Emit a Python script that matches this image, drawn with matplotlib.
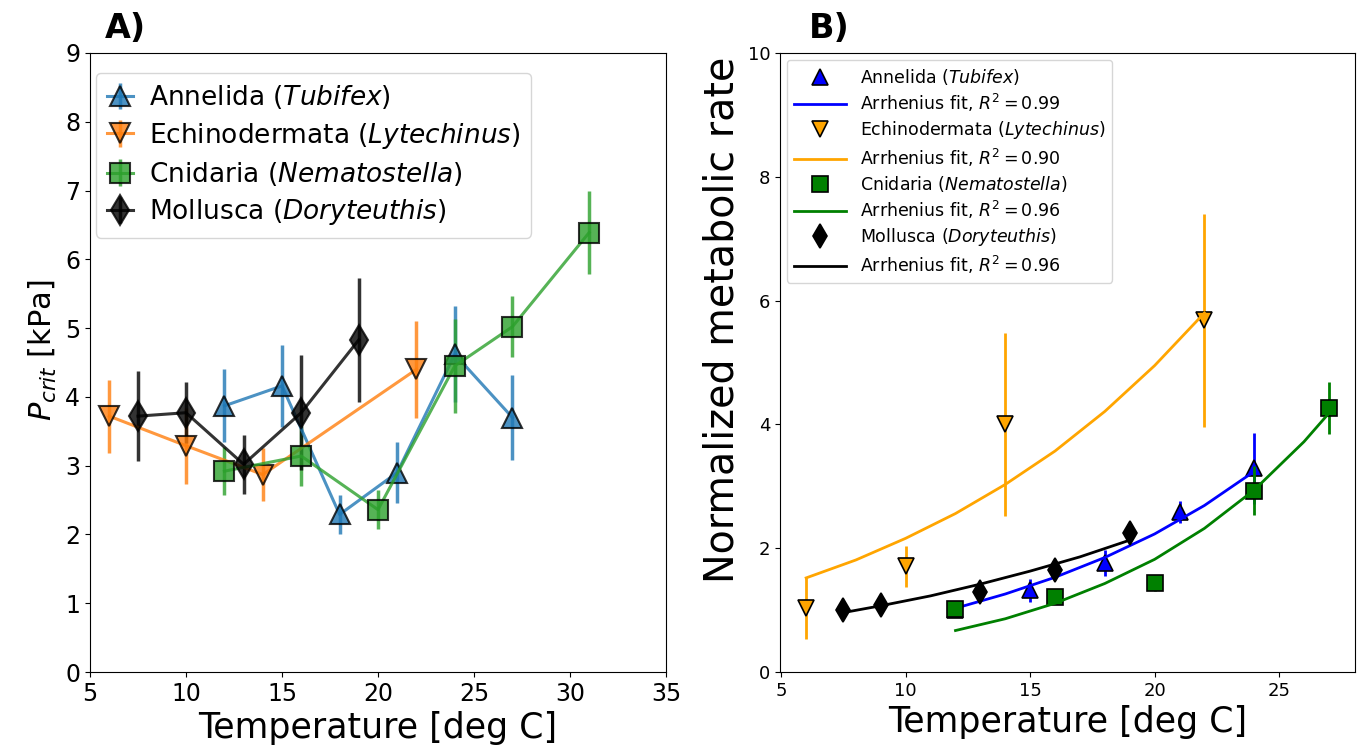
import numpy as np
import matplotlib
matplotlib.use("Agg")
import matplotlib.pyplot as plt

# panel A: Pcrit vs temperature
ann_t = [12, 15, 18, 21, 24, 27]
ann_p = [3.87, 4.16, 2.29, 2.90, 4.62, 3.70]
ann_pe = [0.53, 0.60, 0.29, 0.45, 0.70, 0.62]

ech_t = [6, 10, 14, 22]
ech_p = [3.72, 3.29, 2.87, 4.40]
ech_pe = [0.53, 0.55, 0.38, 0.70]

cni_t = [12, 16, 20, 24, 27, 31]
cni_p = [2.92, 3.14, 2.36, 4.45, 5.02, 6.39]
cni_pe = [0.35, 0.43, 0.28, 0.68, 0.44, 0.60]

mol_t = [7.5, 10, 13, 16, 19]
mol_p = [3.72, 3.77, 3.02, 3.77, 4.83]
mol_pe = [0.65, 0.44, 0.43, 0.84, 0.90]

# panel B: normalized metabolic rate
ann_tb = [12, 15, 18, 21, 24]
ann_r = [1.00, 1.32, 1.76, 2.59, 3.29]
ann_re = [0.08, 0.19, 0.21, 0.18, 0.57]
ech_r = [1.03, 1.71, 4.00, 5.68]
ech_re = [0.50, 0.33, 1.48, 1.72]
cni_tb = [12, 16, 20, 24, 27]
cni_r = [1.02, 1.21, 1.43, 2.93, 4.27]
cni_re = [0.05, 0.05, 0.12, 0.40, 0.42]
mol_tb = [7.5, 9, 13, 16, 19]
mol_r = [1.00, 1.08, 1.30, 1.65, 2.24]
mol_re = [0.05, 0.05, 0.06, 0.08, 0.08]

# fit curves
ann_fit_t = [12, 14, 16, 18, 20, 22, 24]
ann_fit = [1.03, 1.26, 1.53, 1.85, 2.23, 2.69, 3.24]
ech_fit_t = [6, 8, 10, 12, 14, 16, 18, 20, 22]
ech_fit = [1.52, 1.81, 2.16, 2.56, 3.03, 3.57, 4.21, 4.95, 5.80]
cni_fit_t = [12, 14, 16, 18, 20, 22, 24, 26, 27]
cni_fit = [0.67, 0.86, 1.11, 1.43, 1.82, 2.32, 2.94, 3.72, 4.18]
mol_fit_t = [7.5, 9, 11, 13, 15, 17, 19]
mol_fit = [0.96, 1.07, 1.23, 1.42, 1.63, 1.86, 2.13]

fig = plt.figure(figsize=(13.59, 7.53), dpi=100)
ax1 = fig.add_axes([90/1359, 81/753, 576/1359, 619/753])
ax2 = fig.add_axes([780/1359, 81/753, 575/1359, 619/753])

# ---- A ----
kw = dict(markersize=15, lw=2.2, elinewidth=2.5, alpha=0.8, markeredgecolor='k', markeredgewidth=1.5)
ax1.errorbar(ann_t, ann_p, yerr=ann_pe, fmt='-^', color='C0', label='Annelida ($\\it{Tubifex}$)', **kw)
ax1.errorbar(ech_t, ech_p, yerr=ech_pe, fmt='-v', color='C1', label='Echinodermata ($\\it{Lytechinus}$)', **kw)
ax1.errorbar(cni_t, cni_p, yerr=cni_pe, fmt='-s', color='C2', label='Cnidaria ($\\it{Nematostella}$)', **kw)
ax1.errorbar(mol_t, mol_p, yerr=mol_pe, fmt='-d', color='k', label='Mollusca ($\\it{Doryteuthis}$)', **kw)
ax1.set_xlim(5, 35)
ax1.set_ylim(0, 9)
ax1.set_xticks(range(5, 36, 5))
ax1.set_yticks(range(0, 10))
ax1.tick_params(labelsize=17)
ax1.set_xlabel('Temperature [deg C]', fontsize=25)
ax1.set_ylabel('$P_{crit}$ [kPa]', fontsize=22)
ax1.yaxis.label.set_y(0.52)
ax1.legend(loc='upper left', bbox_to_anchor=(-0.008, 0.985), fontsize=19, handlelength=1.0,
           handletextpad=0.6, borderaxespad=0.4, labelspacing=0.35, borderpad=0.4)
ax1.text(0.025, 1.025, 'A)', transform=ax1.transAxes, fontsize=24, fontweight='bold')

# ---- B ----
series = [
    (ann_tb, ann_r, ann_re, ann_fit_t, ann_fit, 'blue', '^', 'Annelida ($\\it{Tubifex}$)', '0.99'),
    (ech_t, ech_r, ech_re, ech_fit_t, ech_fit, 'orange', 'v', 'Echinodermata ($\\it{Lytechinus}$)', '0.90'),
    (cni_tb, cni_r, cni_re, cni_fit_t, cni_fit, 'green', 's', 'Cnidaria ($\\it{Nematostella}$)', '0.96'),
    (mol_tb, mol_r, mol_re, mol_fit_t, mol_fit, 'black', 'd', 'Mollusca ($\\it{Doryteuthis}$)', '0.96'),
]
for t, r, re, ft, fv, c, m, lab, r2 in series:
    ax2.errorbar(t, r, yerr=re, fmt='none', ecolor=c, elinewidth=2)
    ax2.plot(t, r, linestyle='none', marker=m, color=c, markersize=12, markeredgecolor='k',
             markeredgewidth=1.2, label=lab)
    ax2.plot(ft, fv, color=c, lw=2, label='Arrhenius fit, $R^2 = ' + r2 + '$')
ax2.set_ylim(0, 10)
ax2.set_xticks([5, 10, 15, 20, 25])
ax2.set_yticks([0, 2, 4, 6, 8, 10])
ax2.tick_params(labelsize=13)
ax2.set_xlabel('Temperature [deg C]', fontsize=25)
ax2.set_ylabel('Normalized metabolic rate', fontsize=28.5)
ax2.yaxis.label.set_y(0.569)
ax2.legend(loc='upper left', fontsize=12.5, handlelength=3.0, handletextpad=0.8,
           borderaxespad=0.4, labelspacing=0.3)
ax2.text(0.05, 1.025, 'B)', transform=ax2.transAxes, fontsize=24, fontweight='bold')

plt.savefig('out.png', dpi=100)
